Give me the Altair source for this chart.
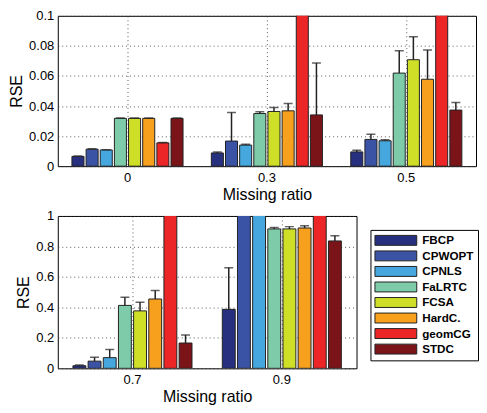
import altair as alt
import pandas as pd

methods = ["FBCP", "CPWOPT", "CPNLS", "FaLRTC", "FCSA", "HardC.", "geomCG", "STDC"]
colors = ["#27307e", "#3b53a4", "#45a7dd", "#7ecba9", "#cfdf27", "#f6a01e", "#ec2526", "#7b1419"]

top_ratios = ["0", "0.3", "0.5"]
bottom_ratios = ["0.7", "0.9"]

# mean RSE and upper end of error bar, per missing ratio
rse_00 = [0.0065, 0.0113, 0.0108, 0.0318, 0.0318, 0.0318, 0.0155, 0.0318]
up_00 = [0.0068, 0.0116, 0.0110, 0.0320, 0.0320, 0.0320, 0.0158, 0.0320]
rse_03 = [0.0088, 0.0167, 0.0140, 0.0350, 0.0364, 0.0368, 0.2500, 0.0341]
up_03 = [0.0094, 0.0357, 0.0145, 0.0362, 0.0390, 0.0417, 0.2500, 0.0686]
rse_05 = [0.0095, 0.0178, 0.0169, 0.0619, 0.0708, 0.0578, 0.3000, 0.0373]
up_05 = [0.0106, 0.0212, 0.0176, 0.0767, 0.0860, 0.0773, 0.3000, 0.0424]
rse_07 = [0.017, 0.047, 0.070, 0.413, 0.377, 0.455, 1.50, 0.166]
up_07 = [0.021, 0.072, 0.123, 0.466, 0.434, 0.511, 1.50, 0.219]
rse_09 = [0.387, 1.40, 1.30, 0.915, 0.915, 0.921, 1.60, 0.836]
up_09 = [0.660, 1.40, 1.30, 0.925, 0.930, 0.936, 1.60, 0.870]

top_ticks = [0, 0.02, 0.04, 0.06, 0.08, 0.1]
bottom_ticks = [0, 0.2, 0.4, 0.6, 0.8, 1.0]


def frame(ratios, rses, ups):
    rows = []
    for r, rs, us in zip(ratios, rses, ups):
        for m, v, u in zip(methods, rs, us):
            rows.append({"ratio": r, "method": m, "rse": v, "upper": u})
    return pd.DataFrame(rows)


top_df = frame(top_ratios, [rse_00, rse_03, rse_05], [up_00, up_03, up_05])
bottom_df = frame(bottom_ratios, [rse_07, rse_09], [up_07, up_09])

FONT = "Liberation Sans"


def panel(df, ratios, ticks, ymax, width, height, legend):
    base = alt.Chart(df).encode(
        x=alt.X("ratio:N", sort=ratios,
                scale=alt.Scale(paddingInner=0, paddingOuter=0),
                axis=alt.Axis(title="Missing ratio", labelAngle=0, grid=True,
                              gridDash=[1, 3], gridColor="#333", gridOpacity=0.8,
                              bandPosition=0.5, ticks=False, domain=False,
                              labelPadding=5, titlePadding=2)),
        xOffset=alt.XOffset("method:N", sort=methods,
                            scale=alt.Scale(paddingInner=0.15, paddingOuter=1)),
    )
    yscale = alt.Scale(domain=[0, ymax], nice=False, zero=True)
    yaxis = alt.Axis(title="RSE", values=ticks, format="~g", grid=True,
                     gridDash=[1, 3], gridColor="#333", gridOpacity=0.8,
                     ticks=False, domain=False, labelPadding=4, labelOverlap=False,
                     titlePadding=4)
    bars = base.mark_bar(clip=True, stroke="#222", strokeWidth=1).encode(
        y=alt.Y("rse:Q", scale=yscale, axis=yaxis, title="RSE"),
        color=alt.Color("method:N", sort=methods,
                        scale=alt.Scale(domain=methods, range=colors),
                        legend=legend),
    )
    err = base.mark_rule(clip=True, color="#222", strokeWidth=1.5).encode(
        y=alt.Y("rse:Q", scale=yscale, axis=yaxis, title="RSE"), y2="upper:Q")
    cap = base.mark_tick(clip=True, color="#222", thickness=1.5, size=9).encode(
        y=alt.Y("upper:Q", scale=yscale, axis=yaxis, title="RSE"))
    return alt.layer(bars, err, cap).properties(width=width, height=height)


legend = alt.Legend(
    title=None, orient="none", legendX=314, legendY=14,
    symbolType="M-1,-0.83H6V0.83H-1Z", symbolSize=144,
    symbolStrokeColor="#222", symbolStrokeWidth=1, symbolOpacity=1,
    labelFont=FONT, labelFontWeight="bold", labelFontSize=11.7, labelColor="#000",
    labelOffset=35, rowPadding=0.6, padding=4,
    strokeColor="#000", fillColor="#fff",
)

top = panel(top_df, top_ratios, top_ticks, 0.1, 420, 151, None)
bottom = panel(bottom_df, bottom_ratios, bottom_ticks, 1.0, 300, 153, legend)

chart = alt.vconcat(top, bottom, spacing=6).resolve_scale(
    color="independent", x="independent", y="independent", xOffset="independent"
).configure(padding=0, background="#fff").configure_view(
    stroke="#000", strokeWidth=1
).configure_axis(
    labelFont=FONT, labelFontSize=13, labelColor="#000",
    titleFont=FONT, titleFontSize=16, titleFontWeight="normal", titleColor="#000",
)

chart.save("out.html", embed_options={"renderer": "svg", "actions": False})
